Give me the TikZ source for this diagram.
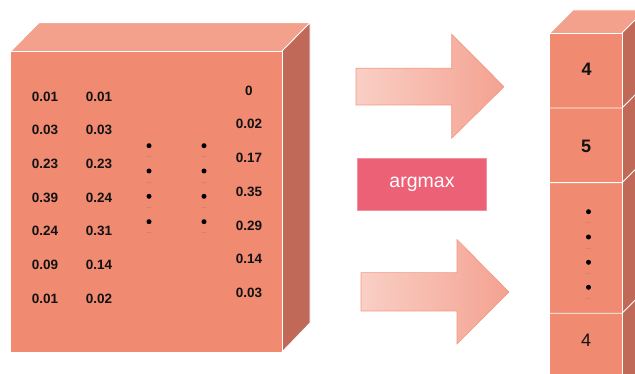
\documentclass[tikz,border=0pt]{standalone}
\usepackage{fontspec}
\setmainfont{Liberation Sans}
\definecolor{facefront}{HTML}{F08A70}
\definecolor{facetop}{HTML}{F3A08C}
\definecolor{faceside}{HTML}{C06958}
\definecolor{arrowlight}{HTML}{F9CFC5}
\definecolor{arrowdark}{HTML}{F4A291}
\definecolor{arrowedge}{HTML}{F2977F}
\definecolor{boxred}{HTML}{EC6176}
\definecolor{inkdark}{HTML}{111111}
\definecolor{faint}{HTML}{D8806E}
\begin{document}
\begin{tikzpicture}[x=1pt,y=-1pt,
  edge/.style={draw=white,line width=0.9pt,line join=round},
  num/.style={inner sep=0pt,text=inkdark,font=\fontsize{13.5}{15}\selectfont\bfseries},
  bignum/.style={inner sep=0pt,text=inkdark,font=\fontsize{18}{20}\selectfont\bfseries},
  plainnum/.style={inner sep=0pt,text=inkdark,font=\fontsize{18}{20}\selectfont},
  dotmark/.style={circle,fill=black,inner sep=0pt,minimum size=5pt},
  blockarrow/.style={left color=arrowlight,right color=arrowdark,draw=arrowedge,line width=0.6pt,line join=miter},
  opbox/.style={fill=boxred,draw=boxred!70!white,line width=0.5pt,minimum width=129pt,minimum height=52pt,inner sep=0pt,
    text=white,font=\fontsize{19.5}{22}\selectfont}
]
\useasboundingbox (0,0) rectangle (635,374);
\begin{scope}
\clip (0,0) rectangle (635,374);

% ---- large probability cube ----
\fill[facefront] (11,51) rectangle (282,352);
\fill[facetop] (11,51) -- (39,22.7) -- (310,22.7) -- (282,51) -- cycle;
\fill[faceside] (282,51) -- (310,22.7) -- (310,323) -- (282,352) -- cycle;
\draw[edge] (11,51) -- (282,51) -- (282,352);
\draw[edge] (282,51) -- (310,22.7) -- (310,323) -- (282,352);
\draw[edge] (11,51) -- (39,22.7) -- (310,22.7);

% first two columns of scores
\foreach \name/\y/\a/\b in {r1/96.7/0.01/0.01, r2/130.3/0.03/0.03, r3/164/0.23/0.23,
    r4/197.7/0.39/0.24, r5/231.3/0.24/0.31, r6/265/0.09/0.14, r7/298.7/0.01/0.02}{
  \node[num] (\name a) at (45,\y) {\a};
  \node[num] (\name b) at (99,\y) {\b};
}
% last column of scores
\foreach \name/\y/\v in {s1/90.7/0, s2/124.3/0.02, s3/158/0.17, s4/191.7/0.35,
    s5/225.5/0.29, s6/259.2/0.14, s7/293/0.03}{
  \node[num] (\name) at (249,\y) {\v};
}
% vertical ellipses between the columns
\foreach \x/\c in {149/p, 204/q}{
  \foreach \y [count=\i] in {145.7,171,196.3,221.7}{
    \node[dotmark] (\c\i) at (\x,\y) {};
    \draw[faint,line width=0.8pt,line cap=round] ([xshift=-1.6pt,yshift=-11pt]\c\i.center) -- ([xshift=1.6pt,yshift=-11pt]\c\i.center);
  }
}

% ---- block arrows ----
\path[blockarrow] (356,68.3) -- (451.7,68.3) -- (451.7,34.3) -- (504,86.7)
   -- (451.7,138.3) -- (451.7,105) -- (356,105) -- cycle;
\path[blockarrow] (361,272.7) -- (457,272.7) -- (457,239.5) -- (509,292)
   -- (457,344) -- (457,311) -- (361,311) -- cycle;

% ---- argmax operation ----
\node[opbox] (argmax) at (422,184.5) {argmax};

% ---- output index column ----
\fill[facefront] (550,33) rectangle (622,380);
\fill[facetop] (550,33) -- (573,10) -- (645,10) -- (622,33) -- cycle;
\fill[faceside] (622,33) -- (645,10) -- (645,380) -- (622,380) -- cycle;
\draw[edge] (550,33) -- (622,33) -- (622,380);
\draw[edge] (622,33) -- (645,10);
\draw[edge] (550,33) -- (573,10) -- (645,10);
\foreach \y in {108,182.7,313.3}{
  \draw[edge] (550,\y) -- (622,\y) -- (645,\y-23);
}
\node[bignum] (o1) at (586.5,69) {4};
\node[bignum] (o2) at (586,146.7) {5};
\foreach \y [count=\i] in {211.7,237,262.3,287.3}{
  \node[dotmark] (od\i) at (588.5,\y) {};
  \draw[faint,line width=0.8pt,line cap=round] ([xshift=-1.6pt,yshift=-11pt]od\i.center) -- ([xshift=1.6pt,yshift=-11pt]od\i.center);
}
\node[plainnum] (o3) at (586,340.7) {4};
\end{scope}
\end{tikzpicture}
\end{document}
